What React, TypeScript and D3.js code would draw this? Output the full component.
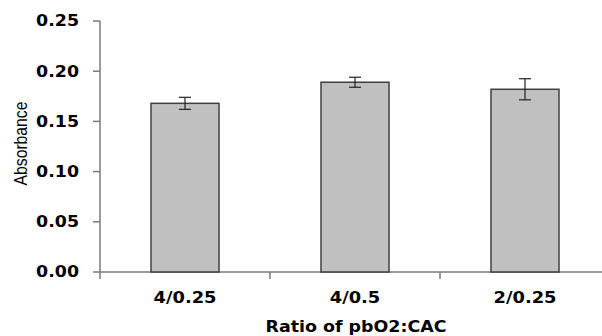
import React, { useEffect, useRef } from 'react';
import * as d3 from 'd3';

const categories = ['4/0.25', '4/0.5', '2/0.25'];
const values = [0.168, 0.189, 0.182];
const errors = [0.006, 0.005, 0.0105];
const yTicks = [0, 0.05, 0.1, 0.15, 0.2, 0.25];

const App = () => {
  const svgRef = useRef<SVGSVGElement | null>(null);
  const width = 602;
  const height = 336;
  const margin = { top: 21, left: 100, bottom: 64, right: -8 };

  useEffect(() => {
    const svg = d3.select(svgRef.current);
    svg.selectAll('*').remove();

    const x = d3.scaleBand()
      .domain(categories)
      .range([margin.left, width - margin.right])
      .padding(0);

    const y = d3.scaleLinear()
      .domain([0, 0.25])
      .range([height - margin.bottom, margin.top]);

    const y0 = y(0);
    const axisColor = '#7a7a7a';
    const font = 'DejaVu Sans, Verdana, sans-serif';

    // y axis
    svg.append('line')
      .attr('x1', margin.left).attr('x2', margin.left)
      .attr('y1', y(0.25)).attr('y2', y0 + 7)
      .attr('stroke', axisColor).attr('stroke-width', 1.5);

    svg.append('g')
      .selectAll('line')
      .data(yTicks)
      .join('line')
      .attr('x1', margin.left - 7).attr('x2', margin.left)
      .attr('y1', d => y(d)).attr('y2', d => y(d))
      .attr('stroke', axisColor).attr('stroke-width', 1.5);

    svg.append('g')
      .selectAll('text')
      .data(yTicks)
      .join('text')
      .attr('transform', d => `translate(79, ${y(d)}) scale(1.16, 1)`)
      .attr('text-anchor', 'end')
      .attr('dy', '0.36em')
      .style('font-family', font)
      .style('font-weight', 'bold')
      .style('font-size', '15px')
      .text(d => d3.format('.2f')(d));

    // x axis
    svg.append('line')
      .attr('x1', margin.left).attr('x2', width)
      .attr('y1', y0).attr('y2', y0)
      .attr('stroke', axisColor).attr('stroke-width', 1.5);

    svg.append('g')
      .selectAll('line')
      .data(categories.slice(1))
      .join('line')
      .attr('x1', d => x(d)!).attr('x2', d => x(d)!)
      .attr('y1', y0).attr('y2', y0 + 7)
      .attr('stroke', axisColor).attr('stroke-width', 1.5);

    svg.append('g')
      .selectAll('text')
      .data(categories)
      .join('text')
      .attr('transform', d => `translate(${x(d)! + x.bandwidth() / 2}, 303) scale(1.19, 1)`)
      .attr('text-anchor', 'middle')
      .style('font-family', font)
      .style('font-weight', 'bold')
      .style('font-size', '15px')
      .text(d => d);

    // bars
    const bw = x.bandwidth() * 0.4;
    const bars = svg.append('g')
      .selectAll('g')
      .data(categories)
      .join('g');

    bars.append('rect')
      .attr('x', d => x(d)! + (x.bandwidth() - bw) / 2)
      .attr('y', (d, i) => y(values[i]))
      .attr('width', bw)
      .attr('height', (d, i) => y0 - y(values[i]))
      .attr('fill', '#c0c0c0')
      .attr('stroke', '#404040')
      .attr('stroke-width', 1.5);

    // error bars
    const cx = (d: string) => x(d)! + x.bandwidth() / 2;
    bars.append('line')
      .attr('x1', cx).attr('x2', cx)
      .attr('y1', (d, i) => y(values[i] + errors[i]))
      .attr('y2', (d, i) => y(values[i] - errors[i]))
      .attr('stroke', '#222').attr('stroke-width', 1.2);
    bars.selectAll('line.cap')
      .data((d, i) => [values[i] + errors[i], values[i] - errors[i]].map(v => ({ c: d, v })))
      .join('line')
      .attr('class', 'cap')
      .attr('x1', d => cx(d.c) - 6).attr('x2', d => cx(d.c) + 6)
      .attr('y1', d => y(d.v)).attr('y2', d => y(d.v))
      .attr('stroke', '#222').attr('stroke-width', 1.2);

    // axis titles
    svg.append('text')
      .attr('transform', `translate(27, ${(margin.top + y0) / 2 - 3}) rotate(-90) scale(0.9, 1)`)
      .attr('text-anchor', 'middle')
      .style('font-family', 'Liberation Sans, Arial, sans-serif')
      .style('font-size', '17.5px')
      .text('Absorbance');

    svg.append('text')
      .attr('transform', `translate(356, 332) scale(1.09, 1)`)
      .attr('text-anchor', 'middle')
      .style('font-family', font)
      .style('font-weight', 'bold')
      .style('font-size', '16px')
      .text('Ratio of pbO2:CAC');
  }, []);

  return (
    <svg
      ref={svgRef}
      width={width}
      height={height}
      style={{ position: 'absolute', left: 0, top: 0, background: '#fff' }}
    />
  );
};

export default App;
